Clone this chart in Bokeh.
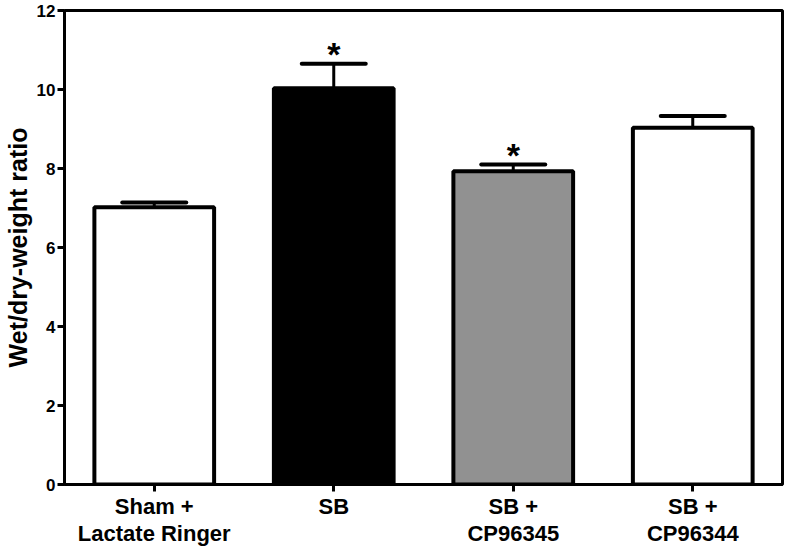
from bokeh.plotting import figure
from bokeh.models import (ColumnDataSource, Whisker, TeeHead, FixedTicker,
                          CanvasTexture, Range1d)
from bokeh.core.properties import value
from bokeh.embed import file_html
from bokeh.resources import INLINE

# ---------------- data ----------------
groups = ["Sham +\nLactate Ringer", "SB", "SB +\nCP96345", "SB +\nCP96344"]
ratio_mean = [7.02, 10.03, 7.93, 9.03]
ratio_sem = [0.12, 0.62, 0.17, 0.30]
significant = [False, True, True, False]
y_ticks = [0, 2, 4, 6, 8, 10, 12]

FONT = "Liberation Sans"
xpos = list(range(1, len(groups) + 1))

# bar styles: fill colour, hatch key, hatch colour, hatch scale
fills = ["white", "black", "white", "white"]
patterns = [" ", " ", "checker", "dots"]
hatch_cols = ["black", "black", "black", "#333333"]
hatch_scales = [8, 8, 8, 5]

tex = {
    "checker": CanvasTexture(code="""
const h = scale / 2;
ctx.fillStyle = color;
ctx.fillRect(0, 0, h, h);
ctx.fillRect(h, h, h, h);
"""),
    "dots": CanvasTexture(code="""
ctx.fillStyle = color;
ctx.fillRect(2, 2, 1, 1);
"""),
}

p = figure(width=784, height=550,
           x_range=Range1d(0.5, 4.5), y_range=Range1d(0, 12),
           output_backend="svg", toolbar_location=None,
           min_border_left=62, min_border_right=2,
           min_border_top=10, min_border_bottom=66)

for i in range(len(xpos)):
    src = ColumnDataSource(dict(x=[xpos[i]], top=[ratio_mean[i]],
                                pat=[patterns[i]]))
    p.vbar(x="x", top="top", width=0.667, bottom=0, source=src,
           fill_color=fills[i], line_color="black", line_width=4,
           hatch_pattern="pat", hatch_color=hatch_cols[i],
           hatch_scale=hatch_scales[i], hatch_extra=tex)

upper = [m + s for m, s in zip(ratio_mean, ratio_sem)]
esrc = ColumnDataSource(dict(x=xpos, lower=ratio_mean, upper=upper))
p.add_layout(Whisker(base="x", lower="lower", upper="upper", source=esrc,
                     dimension="height", line_width=3, line_color="black",
                     lower_head=None,
                     upper_head=TeeHead(size=64, line_width=4, line_color="black",
                                        line_cap="round")))

sx = [xv for xv, s in zip(xpos, significant) if s]
sy = [u + 0.25 for u, s in zip(upper, significant) if s]
p.text(x=sx, y=sy, text=["*"] * len(sx), text_align="center",
       text_baseline="alphabetic", text_font=value(FONT),
       text_font_style="bold", text_font_size="34px", text_color="black")

# ---------------- axes ----------------
p.xgrid.visible = False
p.ygrid.visible = False
p.outline_line_color = "black"
p.outline_line_width = 3
p.outline_line_alpha = 1.0

for ax in (p.xaxis[0], p.yaxis[0]):
    ax.axis_line_width = 3
    ax.axis_line_color = "black"
    ax.major_tick_line_width = 3
    ax.major_tick_line_color = "black"
    ax.major_tick_out = 7
    ax.major_tick_in = 0
    ax.minor_tick_line_color = None
    ax.major_label_text_font = FONT
    ax.major_label_text_font_style = "bold"
    ax.major_label_text_color = "black"

p.xaxis.ticker = FixedTicker(ticks=xpos)
p.xaxis.major_label_overrides = {x: g for x, g in zip(xpos, groups)}
p.xaxis.major_label_text_font_size = "22px"
p.xaxis.major_label_text_line_height = 1.1
p.xaxis.major_label_standoff = 2

p.yaxis.ticker = FixedTicker(ticks=y_ticks)
p.yaxis.major_label_text_font_size = "17px"
p.yaxis.major_label_standoff = 2
p.yaxis.axis_label = "Wet/dry-weight ratio"
p.yaxis.axis_label_text_font = FONT
p.yaxis.axis_label_text_font_style = "bold"
p.yaxis.axis_label_text_font_size = "25px"
p.yaxis.axis_label_text_color = "black"
p.yaxis.axis_label_standoff = 2

open("out.html", "w").write(file_html(p, INLINE))
